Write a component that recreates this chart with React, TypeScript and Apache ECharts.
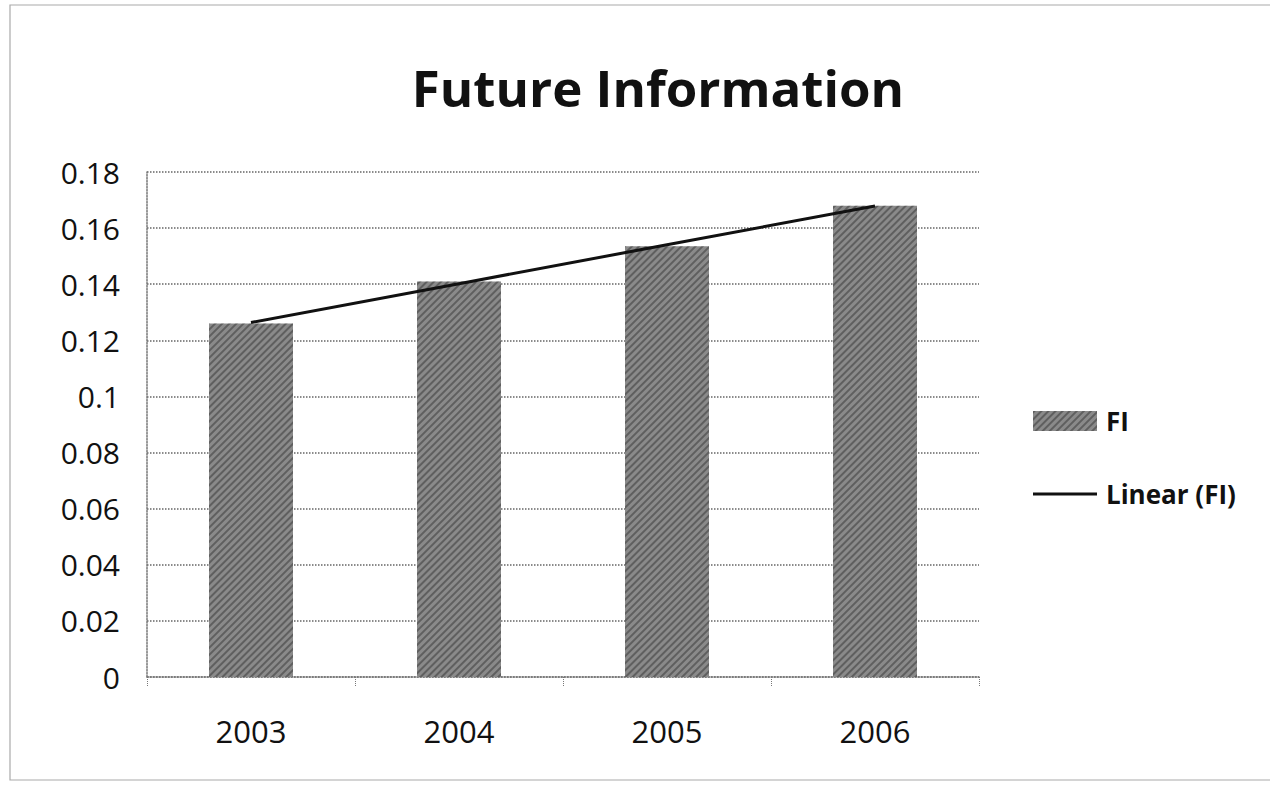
import React, { useEffect, useRef } from "react";
import * as echarts from "echarts";

const categories = ["2003", "2004", "2005", "2006"];
const fiValues = [0.126, 0.141, 0.1535, 0.168];
const yTicks = { min: 0, max: 0.18, interval: 0.02 };

function linearTrend(vals: number[]): number[] {
  const n = vals.length;
  const xs = vals.map((_, i) => i);
  const mx = xs.reduce((a, b) => a + b, 0) / n;
  const my = vals.reduce((a, b) => a + b, 0) / n;
  let num = 0;
  let den = 0;
  for (let i = 0; i < n; i++) {
    num += (xs[i] - mx) * (vals[i] - my);
    den += (xs[i] - mx) * (xs[i] - mx);
  }
  const slope = num / den;
  const icpt = my - slope * mx;
  return xs.map((x) => +(icpt + slope * x).toFixed(5));
}

export default function App() {
  const ref = useRef<HTMLDivElement>(null);
  useEffect(() => {
    if (!ref.current) return;
    const chart = echarts.init(ref.current, null, { renderer: "svg" });
    const font = "'Open Sans', 'Liberation Sans', sans-serif";
    chart.setOption({
      animation: false,
      backgroundColor: "#ffffff",
      title: {
        text: "Future Information",
        left: 653,
        top: 56,
        textAlign: "center",
        textStyle: { fontFamily: font, fontSize: 51, fontWeight: "bold", color: "#111" },
      },
      legend: {
        orient: "vertical",
        left: 1033,
        top: 408,
        padding: 0,
        itemWidth: 64,
        itemHeight: 20,
        itemGap: 47,
        textStyle: { fontFamily: font, fontSize: 26, fontWeight: "bold", color: "#111", padding: [0, 0, 0, 4] },
        data: [
          { name: "FI", icon: "rect" },
          { name: "Linear (FI)", icon: "path://M0,0 L64,0 L64,3 L0,3 Z" },
        ],
      },
      grid: { left: 147, right: 291, top: 172, bottom: 108 },
      xAxis: {
        type: "category",
        data: categories,
        boundaryGap: true,
        axisLine: { lineStyle: { color: "#777", type: "dotted", width: 1.5 } },
        axisTick: { show: true, length: 9, lineStyle: { color: "#777", type: "dotted" } },
        axisLabel: { fontFamily: font, fontSize: 31, color: "#111", margin: 38 },
      },
      yAxis: {
        type: "value",
        min: yTicks.min,
        max: yTicks.max,
        interval: yTicks.interval,
        axisLine: { show: true, lineStyle: { color: "#777", type: "dotted", width: 1.5 } },
        axisTick: { show: false },
        axisLabel: { fontFamily: font, fontSize: 30, color: "#111", margin: 27 },
        splitLine: { lineStyle: { color: "#666", type: "dotted", width: 1.5 } },
      },
      series: [
        {
          name: "FI",
          type: "bar",
          data: fiValues,
          barWidth: 84,
          itemStyle: {
            color: "#8a8a8a",
            decal: {
              symbol: "rect",
              symbolSize: 1,
              dashArrayX: [1, 0],
              dashArrayY: [2, 3],
              rotation: -Math.PI / 4,
              color: "rgba(30,30,30,0.4)",
            },
          },
        },
        {
          name: "Linear (FI)",
          type: "line",
          data: linearTrend(fiValues),
          symbol: "none",
          lineStyle: { color: "#111", width: 3 },
          itemStyle: { color: "#111" },
        },
      ],
      graphic: [
        {
          type: "rect",
          shape: { x: 10, y: 5, width: 1275, height: 775 },
          style: { fill: "none", stroke: "#aaa", lineWidth: 1.2 },
          silent: true,
        },
      ],
    });
    return () => chart.dispose();
  }, []);
  return (
    <div
      ref={ref}
      style={{ position: "fixed", left: 0, top: 0, width: 1270, height: 785 }}
    />
  );
}
